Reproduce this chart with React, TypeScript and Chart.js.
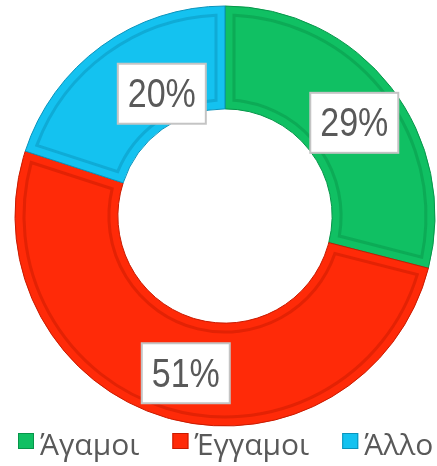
import React, { useEffect, useRef } from "react";
import { Chart, registerables } from "chart.js";

Chart.register(...registerables);

const categories = ["Άγαμοι", "Έγγαμοι", "Άλλο"];
const values = [29, 51, 20];
const valueLabels = ["29%", "51%", "20%"];
const colors = ["#10c063", "#ff2a08", "#14c2f0"];
const edgeColors = ["#07954a", "#c81a00", "#0a93bb"];

const bevelPlugin = {
  id: "bevel",
  afterDatasetDraw(chart: any) {
    const ctx = chart.ctx;
    const meta = chart.getDatasetMeta(0);
    meta.data.forEach((arc: any, i: number) => {
      const { x, y, startAngle, endAngle, innerRadius, outerRadius } = arc.getProps(
        ["x", "y", "startAngle", "endAngle", "innerRadius", "outerRadius"],
        true
      );
      const inset = 9;
      const ro = outerRadius - inset;
      const ri = innerRadius + inset;
      const ao = inset / ro;
      const ai = inset / ri;
      ctx.save();
      ctx.beginPath();
      ctx.arc(x, y, ro, startAngle + ao, endAngle - ao);
      ctx.arc(x, y, ri, endAngle - ai, startAngle + ai, true);
      ctx.closePath();
      ctx.strokeStyle = edgeColors[i];
      ctx.globalAlpha = 0.5;
      ctx.lineWidth = 3;
      ctx.stroke();
      ctx.restore();
    });
  },
};

const labelPlugin = {
  id: "boxLabels",
  afterDraw(chart: any) {
    const ctx = chart.ctx;
    const meta = chart.getDatasetMeta(0);
    const nudges = [
      [4, 4],
      [5, 5],
      [30, 6],
    ];
    meta.data.forEach((arc: any, i: number) => {
      const { x, y, startAngle, endAngle, innerRadius, outerRadius } = arc.getProps(
        ["x", "y", "startAngle", "endAngle", "innerRadius", "outerRadius"],
        true
      );
      const mid = (startAngle + endAngle) / 2;
      const r = (innerRadius + outerRadius) / 2;
      const cx = x + Math.cos(mid) * r + nudges[i][0];
      const cy = y + Math.sin(mid) * r + nudges[i][1];
      const w = 88;
      const h = 60;
      ctx.save();
      ctx.fillStyle = "#ffffff";
      ctx.fillRect(cx - w / 2, cy - h / 2, w, h);
      ctx.strokeStyle = "#c4c4c4";
      ctx.lineWidth = 2;
      ctx.strokeRect(cx - w / 2, cy - h / 2, w, h);
      ctx.fillStyle = "#595959";
      ctx.font = '41px "Liberation Sans", sans-serif';
      ctx.textAlign = "center";
      ctx.textBaseline = "middle";
      ctx.translate(cx, cy + 2);
      ctx.scale(0.83, 1);
      ctx.fillText(valueLabels[i], 0, 0);
      ctx.restore();
    });
  },
};

const legendPlugin = {
  id: "bottomLegend",
  afterDraw(chart: any) {
    const ctx = chart.ctx;
    const box = 16;
    const textGap = 6;
    const itemGap = 33;
    const baseline = 455;
    const boxTop = 433;
    ctx.save();
    ctx.font = "30px 'Open Sans', 'DejaVu Sans', sans-serif";
    ctx.textBaseline = "alphabetic";
    ctx.textAlign = "left";
    let x = 18;
    categories.forEach((name, i) => {
      ctx.fillStyle = colors[i];
      ctx.fillRect(x, boxTop, box, box);
      ctx.strokeStyle = edgeColors[i];
      ctx.lineWidth = 1;
      ctx.strokeRect(x + 0.5, boxTop + 0.5, box - 1, box - 1);
      ctx.fillStyle = "#595959";
      const tx = x + box + textGap;
      ctx.fillText(name, tx, baseline);
      x = tx + ctx.measureText(name).width + itemGap;
    });
    ctx.restore();
  },
};

export default function App() {
  const ref = useRef<HTMLCanvasElement>(null);
  useEffect(() => {
    if (!ref.current) return;
    const chart = new Chart(ref.current, {
      type: "doughnut",
      data: {
        labels: categories,
        datasets: [
          {
            data: values,
            backgroundColor: colors,
            borderColor: edgeColors,
            borderWidth: 1,
          },
        ],
      },
      options: {
        animation: false,
        responsive: false,
        radius: 210,
        cutout: "51%",
        layout: { padding: { left: 13, right: 0, top: 0, bottom: 34 } },
        plugins: {
          tooltip: { enabled: false },
          legend: { display: false },
        },
      },
      plugins: [bevelPlugin, labelPlugin, legendPlugin],
    });
    return () => chart.destroy();
  }, []);
  return (
    <div style={{ position: "fixed", left: 0, top: 0, width: 437, height: 466, background: "#fff" }}>
      <canvas ref={ref} width={437} height={466} />
    </div>
  );
}
